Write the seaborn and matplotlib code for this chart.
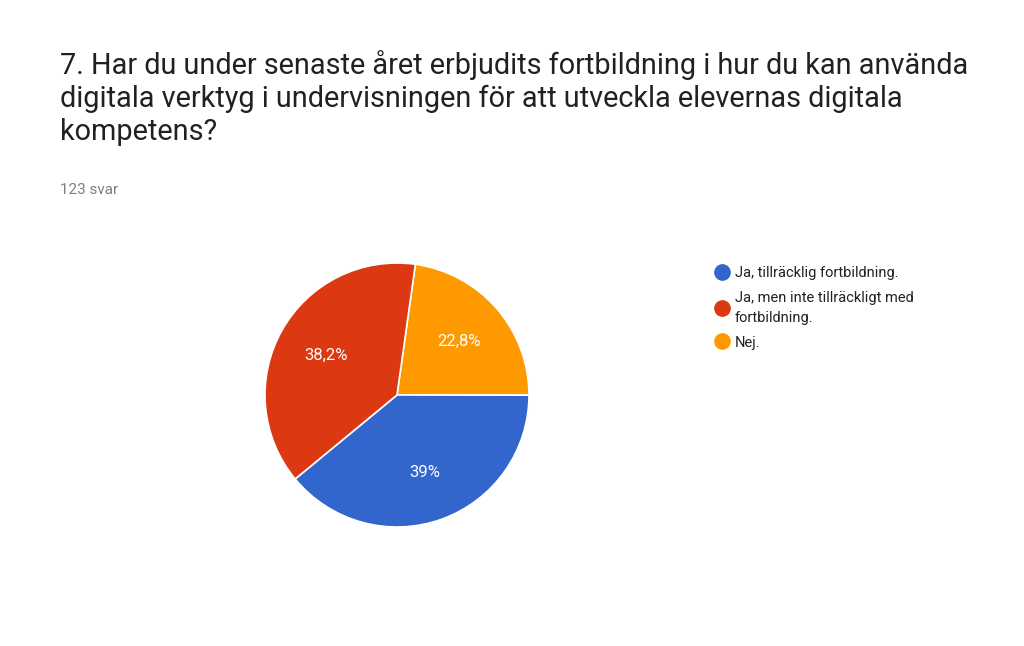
import matplotlib
matplotlib.use("Agg")
import matplotlib.pyplot as plt
import seaborn as sns
import numpy as np

labels = ["Nej.", "Ja, tillräcklig fortbildning.", "Ja, men inte tillräckligt med\nfortbildning."]
values = [22.8, 39.0, 38.2]
pct_text = ["22,8%", "39%", "38,2%"]
colors = ["#ff9900", "#3366cc", "#dc3912"]
legend_order = [1, 2, 0]

sns.set_theme(style="white")
plt.rcParams["font.family"] = "Roboto"
fig = plt.figure(figsize=(10.24, 6.46), dpi=100)
fig.patch.set_facecolor("white")

fig.text(60/1024, 1-50/646, "7. Har du under senaste året erbjudits fortbildning i hur du kan använda\n"
         "digitala verktyg i undervisningen för att utveckla elevernas digitala\nkompetens?",
         fontsize=20.8, color="#202124", va="top", ha="left", linespacing=1.23)
fig.text(60/1024, 1-190/646, "123 svar", fontsize=11, color="#808080", va="center")

r = 132
ax = fig.add_axes([(397-r)/1024, (646-395-r)/646, 2*r/1024, 2*r/646])
wedges, _ = ax.pie(values, colors=colors, startangle=82, counterclock=False,
                   wedgeprops=dict(edgecolor="white", linewidth=1.2), radius=1)
ang = 82
for w, v, t in zip(wedges, values, pct_text):
    mid = np.deg2rad(ang - v*3.6/2)
    ang -= v*3.6
    ax.text(0.62*np.cos(mid), 0.62*np.sin(mid), t, color="white", fontsize=12, ha="center", va="center")
ax.set_aspect("equal")
ax.set_xlim(-1, 1); ax.set_ylim(-1, 1)

handles = [plt.Line2D([], [], marker="o", ls="", markersize=11, color=colors[i]) for i in legend_order]
leg = fig.legend(handles, [labels[i] for i in legend_order], loc="upper left",
           bbox_to_anchor=(700/1024, 1-253/646), frameon=False, fontsize=10.5,
           handletextpad=0.3, labelspacing=0.75, handlelength=1.2)
for t in leg.get_texts():
    t.set_linespacing(1.5)
    t.set_color("#222222")
fig.savefig("out.png", dpi=100, facecolor="white")
